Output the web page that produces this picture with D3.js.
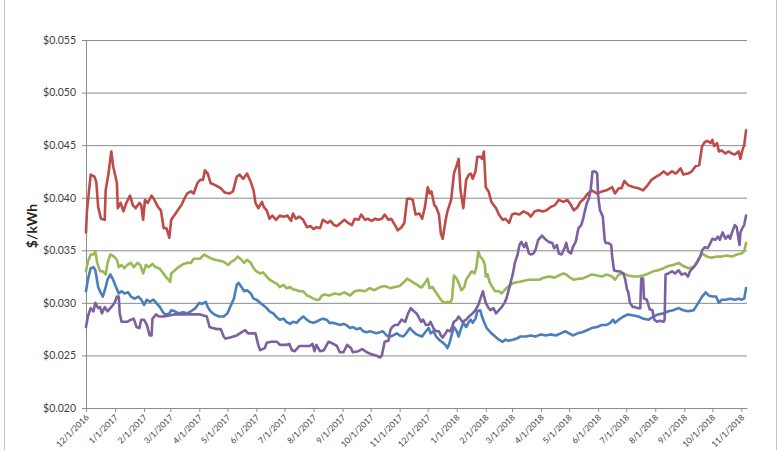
<!DOCTYPE html>
<meta charset="utf-8">

<!-- Load d3.js -->
<script src="https://d3js.org/d3.v7.min.js"></script>

<style>
  body { margin: 0; background: #fff; }
</style>

<!-- Create a div where the graph will take place -->
<div id="my_dataviz"></div>

<script>

  // ---- data ($/kWh) ----
  var yTicks = [0.020, 0.025, 0.030, 0.035, 0.040, 0.045, 0.050, 0.055];
  var xStart = "2016-12-01", xEnd = "2018-11-07";

  var redDates = ["2016-12-01","2016-12-02","2016-12-06","2016-12-10","2016-12-12","2016-12-14","2016-12-17","2016-12-21","2016-12-22","2016-12-25","2016-12-28","2016-12-30",
    "2017-01-03","2017-01-04","2017-01-07","2017-01-10","2017-01-13","2017-01-17","2017-01-20","2017-01-23","2017-01-27","2017-01-29","2017-01-31",
    "2017-02-02","2017-02-05","2017-02-09","2017-02-12","2017-02-16","2017-02-19","2017-02-22","2017-02-25","2017-02-28",
    "2017-03-02","2017-03-06","2017-03-09","2017-03-13","2017-03-16","2017-03-19","2017-03-23","2017-03-26","2017-03-30",
    "2017-04-02","2017-04-05","2017-04-07","2017-04-10","2017-04-13","2017-04-18","2017-04-24","2017-04-28",
    "2017-05-03","2017-05-07","2017-05-11","2017-05-14","2017-05-18","2017-05-22","2017-05-26","2017-05-29","2017-05-31",
    "2017-06-03","2017-06-07","2017-06-09","2017-06-12","2017-06-15","2017-06-18","2017-06-22","2017-06-26","2017-06-30",
    "2017-07-04","2017-07-08","2017-07-10","2017-07-13","2017-07-17","2017-07-21","2017-07-25","2017-07-29",
    "2017-08-01","2017-08-04","2017-08-08","2017-08-11","2017-08-16","2017-08-19","2017-08-23","2017-08-26","2017-08-30",
    "2017-09-03","2017-09-07","2017-09-11","2017-09-14","2017-09-18","2017-09-21","2017-09-25","2017-09-28",
    "2017-10-02","2017-10-06","2017-10-09","2017-10-13","2017-10-16","2017-10-20","2017-10-23","2017-10-27","2017-10-30",
    "2017-11-03","2017-11-06","2017-11-09","2017-11-13","2017-11-15","2017-11-18","2017-11-22","2017-11-25","2017-11-28",
    "2017-12-01","2017-12-03","2017-12-05","2017-12-08","2017-12-10","2017-12-13","2017-12-15","2017-12-17","2017-12-20","2017-12-22","2017-12-26","2017-12-29",
    "2018-01-01","2018-01-03","2018-01-05","2018-01-08","2018-01-11","2018-01-14","2018-01-16","2018-01-18","2018-01-21","2018-01-23","2018-01-26","2018-01-28","2018-01-30",
    "2018-02-01","2018-02-04","2018-02-07","2018-02-12","2018-02-15","2018-02-19","2018-02-22","2018-02-26",
    "2018-03-01","2018-03-04","2018-03-09","2018-03-13","2018-03-18","2018-03-21","2018-03-25","2018-03-29",
    "2018-04-03","2018-04-07","2018-04-11","2018-04-16","2018-04-20","2018-04-25","2018-04-29",
    "2018-05-03","2018-05-06","2018-05-10","2018-05-13","2018-05-17","2018-05-20","2018-05-25","2018-05-31",
    "2018-06-05","2018-06-10","2018-06-16","2018-06-19","2018-06-23","2018-06-26","2018-06-29",
    "2018-07-03","2018-07-09","2018-07-14","2018-07-19","2018-07-24","2018-07-28",
    "2018-08-02","2018-08-06","2018-08-10","2018-08-14","2018-08-19","2018-08-23","2018-08-28","2018-08-31",
    "2018-09-05","2018-09-09","2018-09-13","2018-09-17","2018-09-20","2018-09-23","2018-09-26","2018-09-29",
    "2018-10-01","2018-10-03","2018-10-06","2018-10-08","2018-10-11","2018-10-15","2018-10-18","2018-10-22","2018-10-25","2018-10-29","2018-10-31",
    "2018-11-02","2018-11-04","2018-11-06"];
  var redValues = [0.0367,0.0387,0.0422,0.0420,0.0415,0.0391,0.0380,0.0379,0.0407,0.0423,0.0444,0.0430,
    0.0414,0.0390,0.0395,0.0387,0.0395,0.0402,0.0393,0.0390,0.0395,0.0393,0.0379,
    0.0398,0.0395,0.0402,0.0398,0.0391,0.0388,0.0371,0.0371,0.0362,
    0.0379,0.0384,0.0388,0.0393,0.0399,0.0404,0.0406,0.0404,0.0414,
    0.0417,0.0417,0.0426,0.0423,0.0414,0.0412,0.0409,0.0405,
    0.0404,0.0406,0.0420,0.0422,0.0418,0.0423,0.0415,0.0407,0.0395,
    0.0390,0.0396,0.0391,0.0388,0.0380,0.0383,0.0379,0.0383,0.0382,
    0.0383,0.0378,0.0385,0.0380,0.0382,0.0379,0.0372,0.0373,
    0.0370,0.0372,0.0371,0.0379,0.0376,0.0378,0.0374,0.0373,0.0376,
    0.0379,0.0376,0.0374,0.0380,0.0379,0.0384,0.0379,0.0380,
    0.0378,0.0380,0.0379,0.0380,0.0384,0.0379,0.0380,0.0374,0.0369,
    0.0372,0.0376,0.0399,0.0399,0.0398,0.0384,0.0385,0.0380,0.0391,
    0.0410,0.0404,0.0406,0.0393,0.0391,0.0384,0.0366,0.0361,0.0378,0.0387,0.0398,0.0423,
    0.0431,0.0437,0.0407,0.0390,0.0417,0.0422,0.0423,0.0418,0.0425,0.0439,0.0439,0.0437,0.0444,
    0.0410,0.0406,0.0396,0.0390,0.0384,0.0379,0.0380,0.0376,
    0.0384,0.0385,0.0384,0.0387,0.0385,0.0382,0.0387,0.0388,
    0.0387,0.0388,0.0391,0.0393,0.0398,0.0396,0.0398,
    0.0393,0.0388,0.0391,0.0396,0.0399,0.0403,0.0407,0.0404,
    0.0406,0.0407,0.0410,0.0404,0.0409,0.0409,0.0416,
    0.0412,0.0410,0.0409,0.0407,0.0412,0.0417,
    0.0420,0.0422,0.0425,0.0422,0.0425,0.0423,0.0428,0.0422,
    0.0423,0.0425,0.0430,0.0431,0.0449,0.0453,0.0454,0.0452,
    0.0455,0.0449,0.0452,0.0444,0.0445,0.0442,0.0444,0.0442,0.0441,0.0444,0.0437,
    0.0445,0.0450,0.0464];

  var greenDates = ["2016-12-01","2016-12-03","2016-12-06","2016-12-09","2016-12-11","2016-12-13","2016-12-16","2016-12-19","2016-12-22","2016-12-24","2016-12-27","2016-12-31",
    "2017-01-03","2017-01-05","2017-01-08","2017-01-11","2017-01-14","2017-01-18","2017-01-21","2017-01-25","2017-01-28","2017-01-31",
    "2017-02-03","2017-02-06","2017-02-10","2017-02-13","2017-02-17","2017-02-20","2017-02-24","2017-02-27",
    "2017-03-01","2017-03-02","2017-03-06","2017-03-10","2017-03-15","2017-03-19","2017-03-23","2017-03-26","2017-03-30",
    "2017-04-02","2017-04-06","2017-04-10","2017-04-14","2017-04-18","2017-04-23","2017-04-27",
    "2017-05-02","2017-05-05","2017-05-09","2017-05-12","2017-05-16","2017-05-19","2017-05-22","2017-05-26","2017-05-29",
    "2017-06-01","2017-06-05","2017-06-08","2017-06-12","2017-06-15","2017-06-19","2017-06-23","2017-06-26","2017-06-30",
    "2017-07-03","2017-07-07","2017-07-10","2017-07-14","2017-07-17","2017-07-21","2017-07-25","2017-07-28",
    "2017-08-01","2017-08-04","2017-08-07","2017-08-10","2017-08-13","2017-08-18","2017-08-24","2017-08-29",
    "2017-09-03","2017-09-09","2017-09-14","2017-09-19","2017-09-25","2017-09-30",
    "2017-10-05","2017-10-11","2017-10-16","2017-10-22","2017-10-27",
    "2017-11-01","2017-11-06","2017-11-09","2017-11-13","2017-11-16","2017-11-20","2017-11-23","2017-11-25","2017-11-28",
    "2017-12-01","2017-12-03","2017-12-06","2017-12-09","2017-12-12","2017-12-15","2017-12-17","2017-12-20","2017-12-22","2017-12-25","2017-12-27","2017-12-29",
    "2018-01-01","2018-01-03","2018-01-06","2018-01-09","2018-01-11","2018-01-14","2018-01-17","2018-01-20","2018-01-22","2018-01-24","2018-01-26","2018-01-29","2018-01-31",
    "2018-02-01","2018-02-03","2018-02-05","2018-02-08","2018-02-11","2018-02-15","2018-02-18","2018-02-21","2018-02-23","2018-02-27",
    "2018-03-03","2018-03-09","2018-03-14","2018-03-19","2018-03-25","2018-03-30",
    "2018-04-04","2018-04-10","2018-04-15","2018-04-20","2018-04-25","2018-04-28",
    "2018-05-02","2018-05-06","2018-05-11","2018-05-15","2018-05-20","2018-05-25","2018-05-31",
    "2018-06-05","2018-06-10","2018-06-16","2018-06-19","2018-06-23","2018-06-28",
    "2018-07-03","2018-07-09","2018-07-14","2018-07-19","2018-07-25","2018-07-30",
    "2018-08-04","2018-08-10","2018-08-15","2018-08-20","2018-08-26","2018-08-31",
    "2018-09-05","2018-09-11","2018-09-16","2018-09-20","2018-09-25","2018-09-30",
    "2018-10-06","2018-10-11","2018-10-16","2018-10-22","2018-10-27",
    "2018-11-01","2018-11-04","2018-11-06"];
  var greenValues = [0.0330,0.0339,0.0346,0.0346,0.0349,0.0338,0.0330,0.0330,0.0327,0.0338,0.0346,0.0344,
    0.0341,0.0334,0.0336,0.0333,0.0336,0.0338,0.0334,0.0338,0.0336,0.0328,
    0.0336,0.0334,0.0337,0.0334,0.0333,0.0330,0.0325,0.0322,
    0.0320,0.0328,0.0331,0.0334,0.0337,0.0338,0.0338,0.0342,0.0342,
    0.0342,0.0346,0.0344,0.0342,0.0341,0.0340,0.0339,
    0.0336,0.0339,0.0341,0.0344,0.0341,0.0338,0.0341,0.0338,0.0333,
    0.0330,0.0328,0.0329,0.0325,0.0322,0.0320,0.0318,0.0315,0.0317,
    0.0314,0.0315,0.0313,0.0312,0.0311,0.0311,0.0307,0.0306,
    0.0304,0.0303,0.0303,0.0307,0.0308,0.0307,0.0309,0.0308,
    0.0310,0.0307,0.0311,0.0312,0.0311,0.0314,
    0.0312,0.0315,0.0316,0.0314,0.0315,
    0.0316,0.0320,0.0323,0.0321,0.0319,0.0317,0.0315,0.0315,0.0319,
    0.0323,0.0314,0.0315,0.0311,0.0307,0.0303,0.0301,0.0300,0.0301,0.0300,0.0304,0.0326,
    0.0323,0.0319,0.0312,0.0315,0.0322,0.0326,0.0330,0.0328,0.0334,0.0349,0.0344,0.0341,0.0336,
    0.0325,0.0327,0.0320,0.0315,0.0311,0.0311,0.0309,0.0312,0.0314,0.0317,
    0.0319,0.0320,0.0321,0.0322,0.0322,0.0322,
    0.0324,0.0325,0.0324,0.0326,0.0328,0.0327,
    0.0324,0.0322,0.0323,0.0323,0.0325,0.0327,0.0326,
    0.0325,0.0327,0.0325,0.0322,0.0327,0.0328,
    0.0326,0.0325,0.0325,0.0326,0.0328,0.0330,
    0.0331,0.0333,0.0335,0.0336,0.0338,0.0335,
    0.0333,0.0334,0.0341,0.0347,0.0344,0.0343,
    0.0344,0.0344,0.0345,0.0344,0.0346,
    0.0347,0.0349,0.0357];

  var blueDates = ["2016-12-01","2016-12-03","2016-12-06","2016-12-09","2016-12-11","2016-12-14","2016-12-17","2016-12-19","2016-12-22","2016-12-24","2016-12-27","2016-12-30",
    "2017-01-02","2017-01-05","2017-01-08","2017-01-11","2017-01-15","2017-01-18","2017-01-22","2017-01-26","2017-01-29",
    "2017-02-01","2017-02-04","2017-02-07","2017-02-11","2017-02-14","2017-02-18","2017-02-22","2017-02-25","2017-02-28",
    "2017-03-02","2017-03-06","2017-03-10","2017-03-15","2017-03-19","2017-03-23","2017-03-28",
    "2017-04-01","2017-04-04","2017-04-08","2017-04-10","2017-04-13","2017-04-17","2017-04-22","2017-04-27",
    "2017-05-01","2017-05-04","2017-05-08","2017-05-11","2017-05-13","2017-05-16","2017-05-19","2017-05-22","2017-05-26","2017-05-29",
    "2017-06-01","2017-06-05","2017-06-08","2017-06-12","2017-06-15","2017-06-19","2017-06-23","2017-06-26","2017-06-30",
    "2017-07-03","2017-07-07","2017-07-10","2017-07-14","2017-07-17","2017-07-21","2017-07-25","2017-07-28",
    "2017-08-01","2017-08-04","2017-08-08","2017-08-11","2017-08-15","2017-08-18","2017-08-22","2017-08-26","2017-08-29",
    "2017-09-02","2017-09-05","2017-09-09","2017-09-12","2017-09-16","2017-09-20","2017-09-23","2017-09-27","2017-09-30",
    "2017-10-04","2017-10-07","2017-10-11","2017-10-14","2017-10-18","2017-10-22","2017-10-25","2017-10-29",
    "2017-11-01","2017-11-05","2017-11-08","2017-11-12","2017-11-15","2017-11-19","2017-11-22","2017-11-25","2017-11-29",
    "2017-12-02","2017-12-04","2017-12-07","2017-12-10","2017-12-13","2017-12-16","2017-12-20","2017-12-22","2017-12-24","2017-12-27","2017-12-29",
    "2018-01-01","2018-01-03","2018-01-05","2018-01-08","2018-01-11","2018-01-14","2018-01-16","2018-01-18","2018-01-21","2018-01-23","2018-01-26","2018-01-28","2018-01-30",
    "2018-02-02","2018-02-05","2018-02-07","2018-02-11","2018-02-15","2018-02-19","2018-02-22","2018-02-25",
    "2018-03-02","2018-03-06","2018-03-10","2018-03-16","2018-03-21","2018-03-26",
    "2018-04-01","2018-04-06","2018-04-11","2018-04-17","2018-04-22","2018-04-27",
    "2018-05-01","2018-05-05","2018-05-10","2018-05-15","2018-05-20","2018-05-25","2018-05-31",
    "2018-06-05","2018-06-10","2018-06-14","2018-06-17","2018-06-19","2018-06-23","2018-06-28",
    "2018-07-03","2018-07-09","2018-07-14","2018-07-19","2018-07-25","2018-07-30",
    "2018-08-04","2018-08-10","2018-08-15","2018-08-20","2018-08-26","2018-08-31",
    "2018-09-05","2018-09-11","2018-09-16","2018-09-20","2018-09-24","2018-09-27",
    "2018-10-01","2018-10-05","2018-10-08","2018-10-11","2018-10-15","2018-10-20","2018-10-25","2018-10-29",
    "2018-11-01","2018-11-04","2018-11-06"];
  var blueValues = [0.0311,0.0322,0.0333,0.0334,0.0331,0.0315,0.0309,0.0306,0.0315,0.0322,0.0327,0.0322,
    0.0315,0.0309,0.0311,0.0309,0.0310,0.0306,0.0304,0.0306,0.0303,
    0.0298,0.0303,0.0301,0.0303,0.0300,0.0296,0.0290,0.0289,0.0290,
    0.0293,0.0292,0.0290,0.0291,0.0290,0.0292,0.0295,
    0.0300,0.0299,0.0301,0.0296,0.0292,0.0289,0.0287,0.0287,
    0.0290,0.0296,0.0304,0.0317,0.0319,0.0315,0.0311,0.0312,0.0309,0.0304,
    0.0303,0.0300,0.0298,0.0295,0.0292,0.0290,0.0286,0.0284,0.0285,
    0.0282,0.0280,0.0282,0.0281,0.0284,0.0287,0.0284,0.0282,
    0.0281,0.0282,0.0284,0.0285,0.0284,0.0281,0.0281,0.0280,0.0279,
    0.0280,0.0279,0.0276,0.0277,0.0275,0.0276,0.0273,0.0272,0.0273,
    0.0272,0.0271,0.0272,0.0273,0.0269,0.0268,0.0269,0.0271,
    0.0269,0.0268,0.0271,0.0276,0.0273,0.0270,0.0269,0.0268,0.0273,
    0.0276,0.0271,0.0273,0.0268,0.0265,0.0263,0.0260,0.0257,0.0261,0.0271,0.0277,
    0.0273,0.0268,0.0274,0.0281,0.0277,0.0282,0.0284,0.0281,0.0285,0.0292,0.0293,0.0287,0.0282,
    0.0276,0.0273,0.0271,0.0268,0.0265,0.0263,0.0265,0.0264,
    0.0265,0.0266,0.0268,0.0268,0.0269,0.0268,
    0.0270,0.0269,0.0270,0.0269,0.0271,0.0273,
    0.0271,0.0269,0.0271,0.0272,0.0274,0.0276,0.0277,
    0.0279,0.0279,0.0281,0.0284,0.0281,0.0284,0.0287,
    0.0289,0.0288,0.0287,0.0285,0.0284,0.0287,
    0.0289,0.0290,0.0292,0.0293,0.0295,0.0293,
    0.0292,0.0293,0.0300,0.0306,0.0310,0.0307,
    0.0306,0.0306,0.0300,0.0303,0.0303,0.0304,0.0303,0.0304,
    0.0303,0.0304,0.0314];

  var purpleDates = ["2016-12-01","2016-12-03","2016-12-06","2016-12-09","2016-12-11","2016-12-14","2016-12-16","2016-12-18","2016-12-21","2016-12-24","2016-12-27","2016-12-30",
    "2017-01-01","2017-01-03","2017-01-05","2017-01-06","2017-01-08","2017-01-11","2017-01-14","2017-01-18","2017-01-21","2017-01-24","2017-01-27","2017-01-29",
    "2017-02-01","2017-02-04","2017-02-07","2017-02-09","2017-02-10","2017-02-12","2017-02-14","2017-02-17","2017-02-22","2017-02-28",
    "2017-03-05","2017-03-12","2017-03-19","2017-03-26",
    "2017-04-02","2017-04-09","2017-04-12","2017-04-15","2017-04-20","2017-04-24","2017-04-27","2017-04-29",
    "2017-05-04","2017-05-11","2017-05-16","2017-05-20","2017-05-23","2017-05-31",
    "2017-06-03","2017-06-05","2017-06-10","2017-06-12","2017-06-17","2017-06-23","2017-06-26",
    "2017-07-03","2017-07-06","2017-07-09","2017-07-12","2017-07-17","2017-07-23","2017-07-28","2017-07-31",
    "2017-08-02","2017-08-04","2017-08-08","2017-08-12","2017-08-17","2017-08-20","2017-08-26","2017-08-29",
    "2017-09-02","2017-09-06","2017-09-10","2017-09-12","2017-09-18","2017-09-22","2017-09-27",
    "2017-10-02","2017-10-07","2017-10-11","2017-10-13","2017-10-16","2017-10-20","2017-10-22","2017-10-24","2017-10-27","2017-10-30",
    "2017-11-03","2017-11-07","2017-11-10","2017-11-13","2017-11-15","2017-11-19","2017-11-21","2017-11-24","2017-11-26","2017-11-29",
    "2017-12-02","2017-12-04","2017-12-07","2017-12-10","2017-12-13","2017-12-15","2017-12-17","2017-12-20","2017-12-22","2017-12-25","2017-12-27","2017-12-29",
    "2018-01-01","2018-01-03","2018-01-07","2018-01-11","2018-01-14","2018-01-18","2018-01-21","2018-01-24","2018-01-27","2018-01-29","2018-01-30",
    "2018-02-01","2018-02-04","2018-02-06","2018-02-09","2018-02-12","2018-02-15","2018-02-18","2018-02-21","2018-02-23","2018-02-26",
    "2018-03-02","2018-03-04","2018-03-07","2018-03-09","2018-03-11","2018-03-14","2018-03-16","2018-03-19","2018-03-21","2018-03-24","2018-03-26","2018-03-29",
    "2018-04-02","2018-04-05","2018-04-09","2018-04-13","2018-04-15","2018-04-18","2018-04-20","2018-04-23","2018-04-26","2018-04-28","2018-04-30",
    "2018-05-03","2018-05-05","2018-05-08","2018-05-11","2018-05-14","2018-05-16","2018-05-18","2018-05-20","2018-05-22","2018-05-24","2018-05-26","2018-05-29","2018-05-31",
    "2018-06-01","2018-06-03","2018-06-06","2018-06-08","2018-06-09","2018-06-12","2018-06-15","2018-06-16","2018-06-18","2018-06-21","2018-06-24","2018-06-28","2018-06-30",
    "2018-07-02","2018-07-03","2018-07-05","2018-07-08","2018-07-10","2018-07-13","2018-07-16","2018-07-17","2018-07-19","2018-07-20","2018-07-23","2018-07-26","2018-07-29","2018-07-31",
    "2018-08-03","2018-08-06","2018-08-10","2018-08-11","2018-08-12","2018-08-15","2018-08-19","2018-08-22","2018-08-26","2018-08-29",
    "2018-09-02","2018-09-05","2018-09-07","2018-09-10","2018-09-13","2018-09-15","2018-09-18","2018-09-20","2018-09-23","2018-09-26","2018-09-29",
    "2018-10-01","2018-10-04","2018-10-07","2018-10-09","2018-10-12","2018-10-15","2018-10-18","2018-10-20","2018-10-22","2018-10-25","2018-10-27","2018-10-30","2018-10-31",
    "2018-11-02","2018-11-04","2018-11-06"];
  var purpleValues = [0.0277,0.0287,0.0295,0.0292,0.0300,0.0295,0.0296,0.0290,0.0296,0.0292,0.0295,0.0298,
    0.0301,0.0306,0.0306,0.0290,0.0282,0.0282,0.0282,0.0284,0.0285,0.0277,0.0276,0.0284,
    0.0284,0.0279,0.0269,0.0269,0.0285,0.0287,0.0289,0.0287,0.0287,0.0288,
    0.0289,0.0289,0.0289,0.0289,
    0.0289,0.0287,0.0277,0.0276,0.0275,0.0275,0.0268,0.0266,
    0.0267,0.0269,0.0272,0.0274,0.0271,0.0271,
    0.0260,0.0255,0.0257,0.0262,0.0263,0.0263,0.0260,
    0.0260,0.0261,0.0255,0.0254,0.0259,0.0259,0.0259,0.0261,
    0.0254,0.0260,0.0254,0.0255,0.0263,0.0262,0.0259,0.0253,
    0.0253,0.0260,0.0257,0.0253,0.0254,0.0256,0.0253,
    0.0251,0.0250,0.0248,0.0250,0.0263,0.0264,0.0274,0.0277,0.0279,0.0279,
    0.0284,0.0282,0.0290,0.0295,0.0293,0.0290,0.0287,0.0282,0.0284,0.0279,
    0.0279,0.0282,0.0276,0.0273,0.0273,0.0269,0.0267,0.0271,0.0274,0.0273,0.0277,0.0282,
    0.0284,0.0287,0.0282,0.0284,0.0287,0.0290,0.0293,0.0298,0.0306,0.0311,0.0307,
    0.0300,0.0295,0.0293,0.0295,0.0290,0.0293,0.0296,0.0300,0.0304,0.0314,
    0.0328,0.0338,0.0346,0.0355,0.0358,0.0353,0.0357,0.0347,0.0346,0.0347,0.0350,0.0360,
    0.0364,0.0361,0.0358,0.0357,0.0352,0.0355,0.0347,0.0346,0.0352,0.0357,0.0349,
    0.0347,0.0353,0.0358,0.0371,0.0374,0.0380,0.0388,0.0395,0.0399,0.0407,0.0425,0.0425,0.0423,
    0.0402,0.0388,0.0382,0.0360,0.0357,0.0357,0.0355,0.0344,0.0331,0.0330,0.0330,0.0328,0.0322,
    0.0312,0.0311,0.0300,0.0296,0.0296,0.0295,0.0295,0.0323,0.0323,0.0304,0.0303,0.0294,0.0293,0.0284,
    0.0282,0.0283,0.0282,0.0284,0.0327,0.0328,0.0330,0.0328,0.0331,0.0327,
    0.0328,0.0325,0.0330,0.0333,0.0336,0.0339,0.0344,0.0350,0.0353,0.0352,0.0357,
    0.0361,0.0360,0.0363,0.0360,0.0367,0.0361,0.0364,0.0361,0.0367,0.0374,0.0372,0.0355,0.0367,
    0.0371,0.0374,0.0383];

  // one entry per line, Excel default palette
  var seriesNames = ["blue", "red", "green", "purple"];
  var seriesColors = ["#4A7EBB", "#BE4B48", "#98B954", "#7D60A0"];

  // set the dimensions and margins of the graph
  var margin = {top: 40, right: 33, bottom: 42, left: 86},
      width = 780 - margin.left - margin.right,
      height = 450 - margin.top - margin.bottom;

  var parseDate = d3.timeParse("%Y-%m-%d");

  function build(dates, values) {
    return dates.map(function(d, i) { return {date: parseDate(d), value: values[i]}; });
  }
  var allSeries = [
    build(blueDates, blueValues),
    build(redDates, redValues),
    build(greenDates, greenValues),
    build(purpleDates, purpleValues)
  ];

  var root = d3.select("#my_dataviz")
    .append("svg")
      .attr("width", 780)
      .attr("height", 450)
      .style("font-family", "Lato, 'Open Sans', sans-serif");

  // outer chart frame
  root.append("rect")
    .attr("x", 4.5).attr("y", -10)
    .attr("width", 772).attr("height", 480)
    .attr("fill", "none")
    .attr("stroke", "#c4c4c4");

  var svg = root.append("g")
    .attr("transform", "translate(" + margin.left + "," + margin.top + ")");

  var x = d3.scaleTime()
    .domain([parseDate(xStart), parseDate(xEnd)])
    .range([0, width]);

  var y = d3.scaleLinear()
    .domain([yTicks[0], yTicks[yTicks.length - 1]])
    .range([height, 0]);

  // horizontal gridlines
  svg.append("g")
    .selectAll("line")
    .data(yTicks)
    .enter()
    .append("line")
      .attr("x1", 0).attr("x2", width)
      .attr("y1", function(d) { return y(d) + 0.5; })
      .attr("y2", function(d) { return y(d) + 0.5; })
      .attr("stroke", "#8c8c8c")
      .attr("stroke-width", 1);

  // Y axis
  var yAxis = svg.append("g")
    .call(d3.axisLeft(y).tickValues(yTicks).tickFormat(d3.format("$.3f")).tickSize(4).tickPadding(6));
  yAxis.select(".domain").attr("stroke", "#8c8c8c");
  yAxis.selectAll(".tick line").attr("stroke", "#8c8c8c");
  yAxis.selectAll(".tick text")
    .attr("fill", "#404040")
    .style("font-size", "10.5px")
    .style("font-family", "Lato, 'Open Sans', sans-serif");

  // X axis --> monthly date ticks
  var xAxis = svg.append("g")
    .attr("transform", "translate(0," + height + ")")
    .call(d3.axisBottom(x).ticks(d3.timeMonth.every(1)).tickFormat(d3.timeFormat("%-m/%-d/%Y")).tickSize(4).tickSizeOuter(0));
  xAxis.select(".domain").attr("stroke", "#8c8c8c");
  xAxis.selectAll(".tick line").attr("stroke", "#8c8c8c");
  xAxis.selectAll(".tick text")
    .attr("fill", "#404040")
    .style("font-size", "8.5px")
    .style("font-family", "Lato, 'Open Sans', sans-serif")
    .attr("text-anchor", "end")
    .attr("dy", null)
    .attr("y", 0)
    .attr("transform", "translate(3,10) rotate(-45)");

  // Y axis title
  root.append("text")
    .attr("transform", "translate(37," + (margin.top + height / 2 + 2) + ") rotate(-90)")
    .attr("text-anchor", "middle")
    .attr("fill", "#262626")
    .style("font-size", "14px")
    .style("font-weight", "bold")
    .text("$/kWh");

  // the four price lines
  var line = d3.line()
    .x(function(d) { return x(d.date); })
    .y(function(d) { return y(d.value); });

  svg.append("g")
    .selectAll("path")
    .data(allSeries)
    .enter()
    .append("path")
      .attr("d", line)
      .attr("fill", "none")
      .attr("stroke", function(d, i) { return seriesColors[i]; })
      .attr("stroke-width", 2.6)
      .attr("stroke-linejoin", "round")
      .attr("stroke-linecap", "round")
      .attr("class", function(d, i) { return "series-" + seriesNames[i]; });

</script>
